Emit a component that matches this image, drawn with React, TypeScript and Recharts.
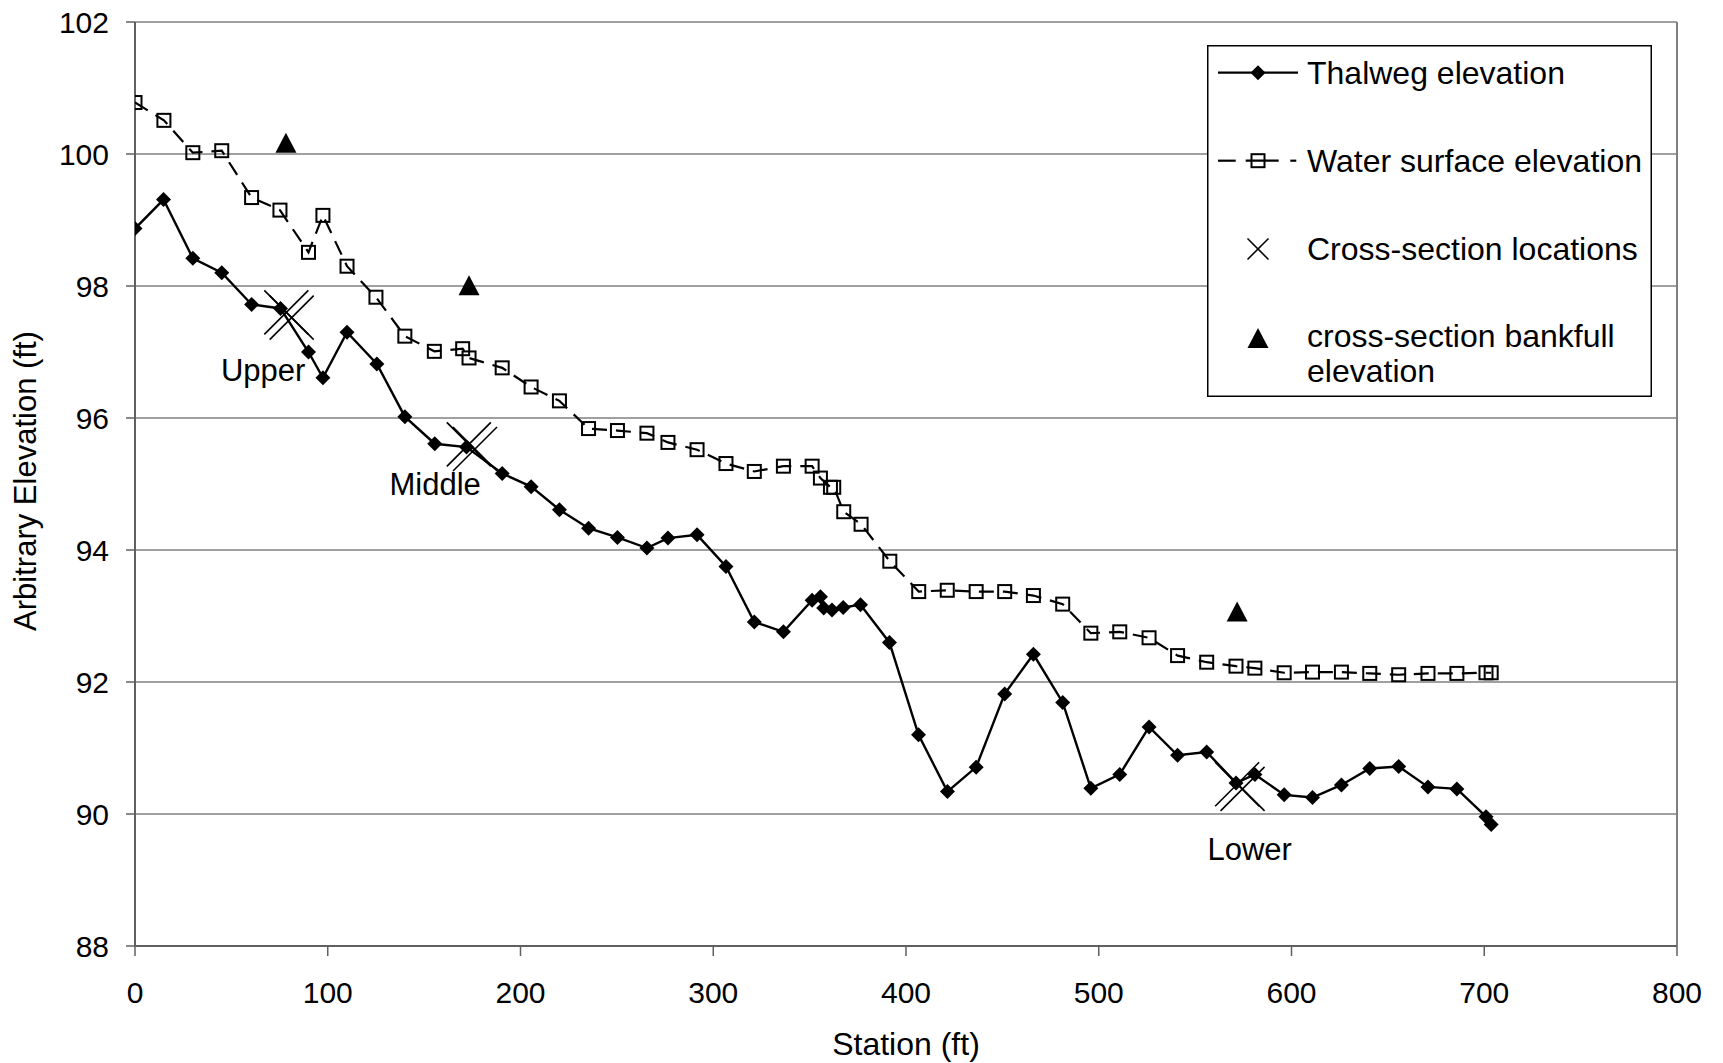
import React from 'react';
import {
  ScatterChart, Scatter, XAxis, YAxis, CartesianGrid, ReferenceLine, Legend
} from 'recharts';

// station (ft) / elevation (ft) pairs
const thalwegStation = [
  0, 14.8, 30, 45, 60.5, 75.5, 90, 97.5, 110, 125.5,
  140, 155.5, 172, 190.5, 205.5, 220.2, 235.3, 250.3, 265.6, 276.5,
  291.6, 306.6, 321.3, 336.4, 351.3, 355.6, 357.3, 361.6, 367.4, 376.4,
  391.4, 406.5, 421.5, 436.4, 451.2, 466.1, 481.3, 495.9, 510.9, 526.1,
  540.9, 556, 571.2, 581, 596.2, 610.9, 625.9, 640.6, 655.6, 670.8,
  685.8, 700.9, 703.6,
];
const thalwegElev = [
  98.87, 99.31, 98.42, 98.2, 97.72, 97.66, 97.0, 96.61, 97.3, 96.82,
  96.02, 95.61, 95.56, 95.16, 94.96, 94.61, 94.33, 94.19, 94.03, 94.18,
  94.23, 93.75, 92.91, 92.76, 93.24, 93.29, 93.12, 93.09, 93.13, 93.17,
  92.6, 91.2, 90.34, 90.71, 91.82, 92.42, 91.69, 90.39, 90.6, 91.32,
  90.89, 90.94, 90.47, 90.6, 90.29, 90.25, 90.44, 90.69, 90.72, 90.41,
  90.38, 89.96, 89.84,
];

const waterStation = [
  0, 15, 30, 45, 60.5, 75.2, 90, 97.5, 110, 125,
  140, 155.3, 170, 173.3, 190.5, 205.5, 220.2, 235.3, 250.3, 265.6,
  276.5, 291.6, 306.6, 321.3, 336.4, 351.3, 355.6, 360.8, 362.5, 367.7,
  376.7, 391.6, 406.6, 421.4, 436.4, 451.2, 466.1, 481.3, 495.9, 510.9,
  526.1, 540.9, 556, 571.2, 581, 596.2, 610.9, 625.9, 640.6, 655.6,
  670.8, 685.8, 700.9, 703.6,
];
const waterElev = [
  100.78, 100.51, 100.02, 100.05, 99.34, 99.15, 98.51, 99.07, 98.3, 97.83,
  97.24, 97.01, 97.05, 96.91, 96.76, 96.47, 96.26, 95.84, 95.81, 95.77,
  95.63, 95.52, 95.31, 95.19, 95.27, 95.27, 95.09, 94.95, 94.95, 94.58,
  94.39, 93.83, 93.37, 93.39, 93.37, 93.37, 93.31, 93.18, 92.74, 92.76,
  92.67, 92.4, 92.3, 92.24, 92.21, 92.14, 92.15, 92.15, 92.13, 92.11,
  92.13, 92.13, 92.14, 92.14,
];

const crossStation = [78.5, 81.3, 173.2, 176.4, 571.8, 574.6];
const crossElev = [97.6, 97.52, 95.6, 95.53, 90.45, 90.38];

const bankfullStation = [78.3, 173.3, 571.8];
const bankfullElev = [100.17, 98.01, 93.07];

const reachNames = ['Upper', 'Middle', 'Lower'];
const reachLabelStation = [66.5, 155.7, 578.3];
const reachLabelElev = [96.73, 95.0, 89.47];

const xTicks = [0, 100, 200, 300, 400, 500, 600, 700, 800];
const yTicks = [88, 90, 92, 94, 96, 98, 100, 102];

const FONT = "'Liberation Sans', Arial, Helvetica, sans-serif";

const zip = (xs: number[], ys: number[]) => xs.map((x, i) => ({ x, y: ys[i] }));

const thalweg = zip(thalwegStation, thalwegElev);
const water = zip(waterStation, waterElev);
const crossSections = zip(crossStation, crossElev);
const bankfull = zip(bankfullStation, bankfullElev);
const reachLabels = reachNames.map((name, i) => ({
  x: reachLabelStation[i], y: reachLabelElev[i], name,
}));

// marker shapes
const Diamond = ({ cx, cy }: any) => (
  <path d={`M${cx},${cy - 7.5}L${cx + 7.5},${cy}L${cx},${cy + 7.5}L${cx - 7.5},${cy}Z`} fill="#000" />
);
const OpenSquare = ({ cx, cy }: any) => (
  <rect x={cx - 6.5} y={cy - 6.5} width={13} height={13} fill="none" stroke="#000" strokeWidth={2} />
);
const XMark = ({ cx, cy, r = 22 }: any) => (
  <g stroke="#000" strokeWidth={1.6}>
    <line x1={cx - r} y1={cy - r} x2={cx + r} y2={cy + r} />
    <line x1={cx - r} y1={cy + r} x2={cx + r} y2={cy - r} />
  </g>
);
const Triangle = ({ cx, cy }: any) => (
  <path d={`M${cx},${cy - 10}L${cx + 10.5},${cy + 10}L${cx - 10.5},${cy + 10}Z`} fill="#000" />
);
const ReachLabel = ({ cx, cy, payload }: any) => (
  <text x={cx} y={cy + 11} textAnchor="middle" fontSize={31} fontFamily={FONT} fill="#000">
    {payload.name}
  </text>
);

const legendRows = [
  'Thalweg elevation',
  'Water surface elevation',
  'Cross-section locations',
];

const LegendBox = () => (
  <svg width={445} height={352} style={{ display: 'block' }}>
    <rect x={0.75} y={0.75} width={443.5} height={350.5} fill="#fff" stroke="#000" strokeWidth={1.5} />
    <line x1={11} y1={27.7} x2={91} y2={27.7} stroke="#000" strokeWidth={2.2} />
    <Diamond cx={51} cy={27.7} />
    <g stroke="#000" strokeWidth={2.2}>
      <line x1={11} y1={115.7} x2={28.7} y2={115.7} />
      <line x1={38.7} y1={115.7} x2={71.7} y2={115.7} />
      <line x1={83.3} y1={115.7} x2={89.3} y2={115.7} />
    </g>
    <OpenSquare cx={51} cy={115.7} />
    <XMark cx={51} cy={204} r={10.5} />
    <Triangle cx={51} cy={293} />
    <g fontSize={32} fontFamily={FONT} fill="#000">
      {legendRows.map((t, i) => (
        <text key={t} x={100} y={38.5 + i * 88.3}>{t}</text>
      ))}
      <text x={100} y={301.7}>cross-section bankfull</text>
      <text x={100} y={336.7}>elevation</text>
    </g>
  </svg>
);

const XTitle = ({ viewBox }: any) => {
  const { x, y, width } = viewBox;
  return (
    <text x={x + width / 2} y={y + 109} textAnchor="middle" fontSize={32} fontFamily={FONT} fill="#000">
      Station (ft)
    </text>
  );
};

const YTitle = ({ viewBox }: any) => {
  const { y, height } = viewBox;
  const cy = y + height / 2 - 3;
  return (
    <text x={36} y={cy} transform={`rotate(-90 36 ${cy})`} textAnchor="middle" fontSize={31} fontFamily={FONT} fill="#000">
      Arbitrary Elevation (ft)
    </text>
  );
};

export default function App() {
  const tickStyle = { fill: '#000', fontSize: 30, fontFamily: FONT };
  return (
    <div style={{ position: 'absolute', left: 0, top: 0, background: '#fff' }}>
      <ScatterChart
        width={1723}
        height={1063}
        margin={{ top: 22, right: 46, bottom: 0, left: 0 }}
        style={{ fontFamily: FONT }}
      >
        <CartesianGrid horizontal vertical={false} stroke="#808080" strokeWidth={1.5} />
        <XAxis
          type="number"
          dataKey="x"
          domain={[0, 800]}
          ticks={xTicks}
          interval={0}
          height={117}
          tickSize={10}
          tickMargin={26}
          tick={tickStyle}
          axisLine={{ stroke: '#606060', strokeWidth: 2 }}
          tickLine={{ stroke: '#606060', strokeWidth: 1.5 }}
          allowDataOverflow
          label={{ content: XTitle }}
        />
        <YAxis
          type="number"
          dataKey="y"
          domain={[88, 102]}
          ticks={yTicks}
          interval={0}
          width={135}
          tickSize={9}
          tickMargin={17}
          tick={tickStyle}
          axisLine={{ stroke: '#606060', strokeWidth: 2 }}
          tickLine={{ stroke: '#606060', strokeWidth: 1.5 }}
          allowDataOverflow
          label={{ content: YTitle }}
        />
        <ReferenceLine x={800} stroke="#808080" strokeWidth={2} />
        <Legend
          layout="horizontal"
          verticalAlign="middle"
          align="center"
          content={<LegendBox />}
          wrapperStyle={{ position: 'absolute', left: 1207, top: 45, width: 445, height: 352 }}
        />
        <Scatter
          name="Water surface elevation"
          data={water}
          fill="#000"
          line={{ stroke: '#000', strokeWidth: 2.2, strokeDasharray: '15 9' }}
          shape={OpenSquare}
          isAnimationActive={false}
        />
        <Scatter
          name="Thalweg elevation"
          data={thalweg}
          fill="#000"
          line={{ stroke: '#000', strokeWidth: 2.4 }}
          shape={Diamond}
          isAnimationActive={false}
        />
        <Scatter
          name="Cross-section locations"
          data={crossSections}
          fill="#000"
          shape={XMark}
          isAnimationActive={false}
        />
        <Scatter
          name="cross-section bankfull elevation"
          data={bankfull}
          fill="#000"
          shape={Triangle}
          isAnimationActive={false}
        />
        <Scatter
          name="reach"
          data={reachLabels}
          fill="#000"
          shape={ReachLabel}
          legendType="none"
          isAnimationActive={false}
        />
      </ScatterChart>
    </div>
  );
}
